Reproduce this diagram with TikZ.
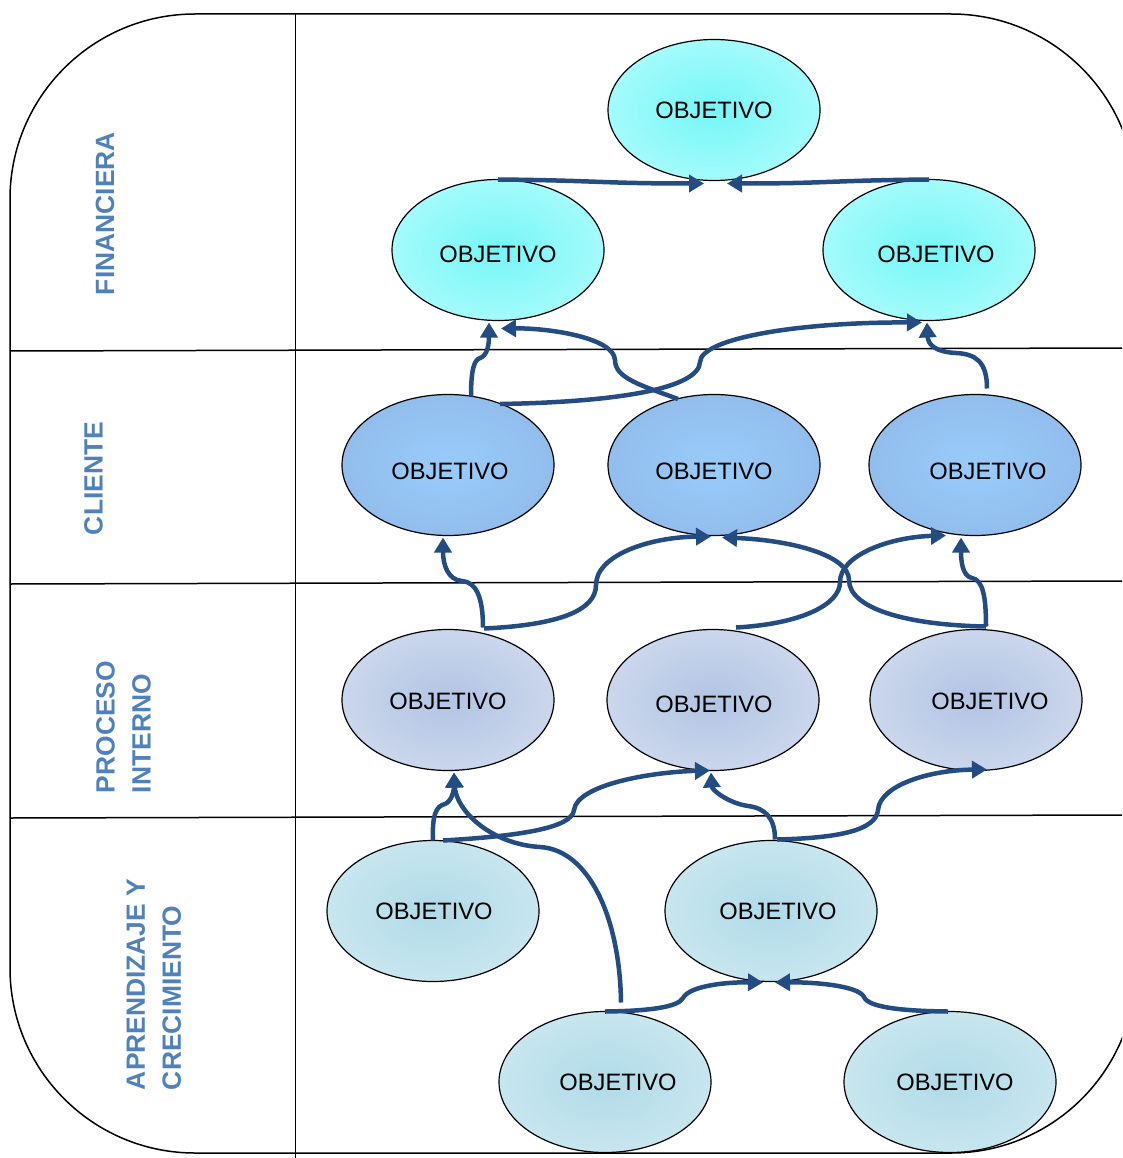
\documentclass[tikz,border=0pt]{standalone}
\usepackage{fontspec}
\setmainfont{Liberation Sans}
\usetikzlibrary{shapes.geometric,arrows.meta,calc}
\definecolor{fincenter}{RGB}{118,246,246}
\definecolor{finouter}{RGB}{202,255,255}
\definecolor{clicenter}{RGB}{153,204,250}
\definecolor{cliouter}{RGB}{139,177,225}
\definecolor{procenter}{RGB}{178,196,228}
\definecolor{proouter}{RGB}{222,230,242}
\definecolor{lrncenter}{RGB}{176,219,232}
\definecolor{lrnouter}{RGB}{219,239,244}
\definecolor{connc}{RGB}{35,76,131}
\definecolor{labc}{RGB}{79,129,189}
\pgfdeclareradialshading{finsh}{\pgfpoint{0bp}{0bp}}{color(0bp)=(fincenter); color(46bp)=(finouter); color(50bp)=(finouter)}
\pgfdeclareradialshading{clish}{\pgfpoint{0bp}{0bp}}{color(0bp)=(clicenter); color(46bp)=(cliouter); color(50bp)=(cliouter)}
\pgfdeclareradialshading{prosh}{\pgfpoint{0bp}{0bp}}{color(0bp)=(procenter); color(46bp)=(proouter); color(50bp)=(proouter)}
\pgfdeclareradialshading{lrnsh}{\pgfpoint{0bp}{0bp}}{color(0bp)=(lrncenter); color(46bp)=(lrnouter); color(50bp)=(lrnouter)}
\begin{document}
\begin{tikzpicture}[x=1pt,y=-1pt,
  obj/.style={ellipse,draw=black,line width=1.2pt,minimum width=212pt,minimum height=141pt,inner sep=0pt,outer sep=0pt},
  finobj/.style={obj,shading=finsh},
  cliobj/.style={obj,shading=clish},
  proobj/.style={obj,shading=prosh},
  lrnobj/.style={obj,shading=lrnsh},
  every label/.style={inner sep=0pt,outer sep=0pt,font=\fontsize{23.7}{28}\selectfont,text=black},
  conn/.style={draw=connc,line width=4.5pt,-{Triangle[length=15pt,width=17pt]}},
  persp/.style={rotate=90,anchor=west,inner sep=0pt,outer sep=0pt,text=labc,font=\fontsize{26.4}{36}\selectfont\bfseries,align=left},
  frame/.style={draw=black,line width=1.5pt}]
\useasboundingbox (0,0) rectangle (1122,1158);
\clip (0,0) rectangle (1122,1158);
% frame
\draw[frame,rounded corners=185pt] (10,14) rectangle (1136,1153);
\draw[frame] (295.5,14) -- (295.5,1158);
\draw[frame] (10,351) -- (1122,348);
\draw[frame] (10,584) -- (1122,581);
\draw[frame] (10,818) -- (1122,815);
% perspective labels
\node[persp] (lfin) at (105,295) {FINANCIERA};
\node[persp] (lcli) at (93.5,535) {CLIENTE};
\node[persp] (lpro) at (123.5,793) {PROCESO\\INTERNO};
\node[persp] (llrn) at (154,1090) {APRENDIZAJE Y\\CRECIMIENTO};
% objectives
\node[finobj,label={center:OBJETIVO}] (T) at (714,110) {};
\node[finobj,label={[shift={(0,4)}]center:OBJETIVO}] (FL) at (498,250) {};
\node[finobj,label={[shift={(7,4)}]center:OBJETIVO}] (FR) at (929,250) {};
\node[cliobj,label={[shift={(2,6)}]center:OBJETIVO}] (CL) at (448,465) {};
\node[cliobj,label={[shift={(0,6)}]center:OBJETIVO}] (CM) at (714,465) {};
\node[cliobj,label={[shift={(13,6)}]center:OBJETIVO}] (CR) at (975,465) {};
\node[proobj,label={[shift={(0,1)}]center:OBJETIVO}] (PL) at (448,700) {};
\node[proobj,label={[shift={(1,4)}]center:OBJETIVO}] (PM) at (713,700) {};
\node[proobj,label={[shift={(14,1)}]center:OBJETIVO}] (PR) at (976,700) {};
\node[lrnobj,label={[shift={(1,0)}]center:OBJETIVO}] (LL) at (433,911) {};
\node[lrnobj,label={[shift={(7,0)}]center:OBJETIVO}] (LM) at (771,911) {};
\node[lrnobj,label={[shift={(13,0)}]center:OBJETIVO}] (BL) at (605,1082) {};
\node[lrnobj,label={[shift={(5,0)}]center:OBJETIVO}] (BR) at (950,1082) {};
\coordinate (s14) at ($(BL.north)+(16,-9)$);
% connectors: financial
\draw[conn] (FL.north) .. controls +(100,1) and +(-100,0) .. ($(T.south)+(-10,3)$);
\draw[conn] (FR.north) .. controls +(-100,1) and +(100,0) .. ($(T.south)+(13,3)$);
% client -> financial
\draw[conn] ($(CL.north)+(23,2)$) .. controls (471,370) and (474,360) .. (480,358) .. controls (487,356) and (489,345) .. ($(FL.south)+(-9,2)$);
\draw[conn] ($(CL.center)+(52,-61)$) .. controls (620,402) and (699,388) .. (700,362) .. controls (701,338) and (800,322) .. ($(FR.south)+(-7,2)$);
\draw[conn] ($(CM.center)+(-36,-66)$) .. controls (640,385) and (615,378) .. (615,360) .. controls (614,338) and (550,328) .. ($(FL.south)+(3,8)$);
\draw[conn] ($(CR.north)+(12,-6)$) .. controls (987,362) and (976,354) .. (956,353) .. controls (936,352) and (928,345) .. ($(FR.south)+(-2,2)$);
% process -> client
\draw[conn] ($(PL.north)+(35,-2)$) .. controls (483,597) and (476,582) .. (462,581) .. controls (448,580) and (443,565) .. ($(CL.south)+(-5,2)$);
\draw[conn] ($(PL.north)+(36,-1)$) .. controls (560,625) and (596,610) .. (596,585) .. controls (596,555) and (650,537) .. ($(CM.south)+(-3,1)$);
\draw[conn] ($(PR.north)+(10,-3)$) .. controls (905,625) and (849,608) .. (849,580) .. controls (849,555) and (790,540) .. ($(CM.south)+(8,2)$);
\draw[conn] ($(PM.north)+(23,-2)$) .. controls (800,624) and (840,605) .. (840,582) .. controls (840,555) and (890,537) .. ($(CR.south)+(-29,0)$);
\draw[conn] ($(PR.north)+(10,-3)$) .. controls (986,597) and (983,580) .. (972,578) .. controls (962,576) and (961,560) .. ($(CR.south)+(-14,2)$);
% learning -> process
\draw[conn] (LL.north) .. controls (432,815) and (436,806) .. (445,804) .. controls (452,801) and (454,790) .. ($(PL.south)+(6,2)$);
\draw[conn] ($(LL.north)+(10,0)$) .. controls (520,836) and (572,828) .. (574,810) .. controls (577,785) and (650,772) .. ($(PM.south)+(-3,0)$);
\draw[conn] (s14) .. controls (620,920) and (590,850) .. (540,847) .. controls (490,844) and (456,810) .. ($(PL.south)+(6,2)$);
\draw[conn] ($(LM.north)+(4,-1)$) .. controls (775,818) and (765,808) .. (748,806) .. controls (728,803) and (712,790) .. ($(PM.south)+(-2,2)$);
\draw[conn] ($(LM.north)+(6,-1)$) .. controls (840,838) and (876,830) .. (878,810) .. controls (880,785) and (930,770) .. ($(PR.south)+(11,-1)$);
% bottom -> learning
\draw[conn] (BL.north) .. controls (650,1011) and (678,1007) .. (683,998) .. controls (690,985) and (730,982) .. ($(LM.south)+(-8,1)$);
\draw[conn] ($(BR.north)+(-2,0)$) .. controls (900,1011) and (868,1007) .. (864,997) .. controls (858,985) and (810,982) .. ($(LM.south)+(4,1)$);
\end{tikzpicture}
\end{document}
